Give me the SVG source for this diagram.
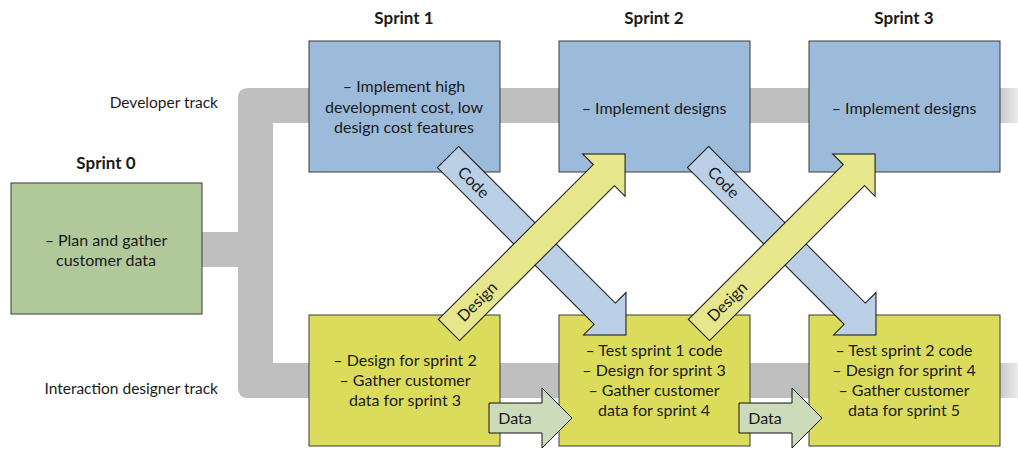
<svg xmlns="http://www.w3.org/2000/svg" width="1018" height="449" viewBox="0 0 1018 449">
<defs>
<linearGradient id="fade" gradientUnits="userSpaceOnUse" x1="995" y1="0" x2="1018" y2="0">
<stop offset="0" stop-color="#BFBFBF"/>
<stop offset="1" stop-color="#BFBFBF" stop-opacity="0.3"/>
</linearGradient>
<style>
text{font-family:Lato,"Liberation Sans",sans-serif;font-size:16px;fill:#1a1a1a;text-anchor:middle}
.h{font-weight:bold;font-size:17px}
.blue{fill:#9CBAD9;stroke:#3a3a3a;stroke-width:1}
.yel{fill:#DCDC5C;stroke:#3a3a3a;stroke-width:1}
.grn{fill:#B1C89A;stroke:#3a3a3a;stroke-width:1}
.code{fill:#BBD0E6;stroke:#111;stroke-width:1}
.des{fill:#E6E68C;stroke:#111;stroke-width:1}
.data{fill:#CCDBBA;stroke:#111;stroke-width:1}
.lbl{text-anchor:end;font-size:15.5px}
</style>
</defs>
<rect width="1018" height="449" fill="#fff"/>
<g id="tracks">
<path d="M248 88 H995 V123 H273 V363 H995 V398 H248 Q238 398 238 388 V267 H202 V232 H238 V98 Q238 88 248 88 Z" fill="#BFBFBF"/>
<rect x="995" y="88" width="23" height="35" fill="url(#fade)"/>
<rect x="995" y="363" width="23" height="35" fill="url(#fade)"/>
</g>
<g id="labels">
<text x="404" y="24" class="h">Sprint 1</text>
<text x="654" y="24" class="h">Sprint 2</text>
<text x="904" y="24" class="h">Sprint 3</text>
<text x="106" y="169" class="h">Sprint 0</text>
<text x="218" y="108" class="lbl">Developer track</text>
<text x="218" y="394" class="lbl">Interaction designer track</text>
</g>
<g id="sprint0">
<rect x="11" y="183" width="191" height="131" class="grn"/>
<text x="106" y="246">– Plan and gather</text>
<text x="106" y="266">customer data</text>
</g>
<g id="dev1"><rect x="309" y="41" width="191" height="131" class="blue"/></g>
<g id="dev2"><rect x="559" y="41" width="191" height="131" class="blue"/></g>
<g id="dev3"><rect x="809" y="41" width="191" height="131" class="blue"/></g>
<g id="ixd1"><rect x="309" y="315" width="191" height="131" class="yel"/></g>
<g id="ixd2"><rect x="559" y="315" width="191" height="131" class="yel"/></g>
<g id="ixd3"><rect x="809" y="315" width="191" height="131" class="yel"/></g>
<g id="connectors">
<g transform="translate(448 157) rotate(45)">
<polygon class="code" points="0,-15 221.7,-15 221.7,-30 251.7,0 221.7,30 221.7,15 0,15"/>
<text x="36" y="5.5">Code</text>
</g>
<g transform="translate(698 157) rotate(45)">
<polygon class="code" points="0,-15 221.7,-15 221.7,-30 251.7,0 221.7,30 221.7,15 0,15"/>
<text x="36" y="5.5">Code</text>
</g>
<g transform="translate(449 330) rotate(-45)">
<polygon class="des" points="0,-15 219,-15 219,-30 249,0 219,30 219,15 0,15"/>
<text x="40" y="5.5">Design</text>
</g>
<g transform="translate(699 330) rotate(-45)">
<polygon class="des" points="0,-15 219,-15 219,-30 249,0 219,30 219,15 0,15"/>
<text x="40" y="5.5">Design</text>
</g>
<polygon class="data" points="489,403 542,403 542,388 572,418 542,448 542,433 489,433"/>
<text x="515" y="423.5">Data</text>
<polygon class="data" points="739,403 792,403 792,388 822,418 792,448 792,433 739,433"/>
<text x="765" y="423.5">Data</text>
</g>
<g id="texts">
<text x="404" y="92">– Implement high</text>
<text x="404" y="113">development cost, low</text>
<text x="404" y="133">design cost features</text>
<text x="654" y="114">– Implement designs</text>
<text x="904" y="114">– Implement designs</text>
<text x="405" y="366">– Design for sprint 2</text>
<text x="405" y="386">– Gather customer</text>
<text x="405" y="406">data for sprint 3</text>
<text x="654" y="356">– Test sprint 1 code</text>
<text x="654" y="376">– Design for sprint 3</text>
<text x="654" y="396">– Gather customer</text>
<text x="654" y="416">data for sprint 4</text>
<text x="904" y="356">– Test sprint 2 code</text>
<text x="904" y="376">– Design for sprint 4</text>
<text x="904" y="396">– Gather customer</text>
<text x="904" y="416">data for sprint 5</text>
</g>
</svg>
